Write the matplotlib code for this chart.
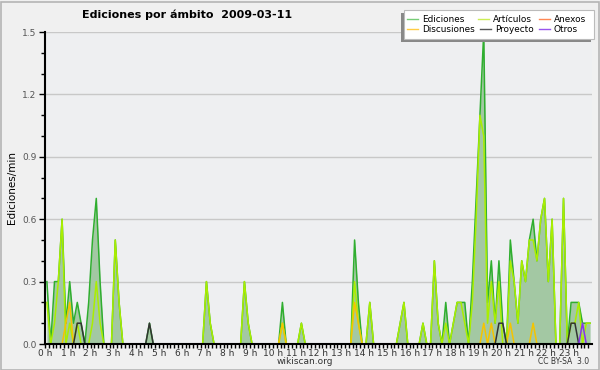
import numpy as np
import matplotlib
matplotlib.use("Agg")
import matplotlib.pyplot as plt
from matplotlib.patches import Rectangle

# 10-minute buckets, edits per minute
ediciones = [0.3, 0, 0.3, 0.3, 0.6, 0.1, 0.3, 0.1, 0.2, 0.1, 0, 0.2, 0.5, 0.7, 0.3, 0, 0, 0, 0.5, 0.2,
             0, 0, 0, 0, 0, 0, 0, 0.1, 0, 0, 0, 0, 0, 0, 0, 0, 0, 0, 0, 0,
             0, 0, 0.3, 0.1, 0, 0, 0, 0, 0, 0, 0, 0, 0.3, 0.1, 0, 0, 0, 0, 0, 0,
             0, 0, 0.2, 0, 0, 0, 0, 0.1, 0, 0, 0, 0, 0, 0, 0, 0, 0, 0, 0, 0,
             0, 0.5, 0.2, 0, 0, 0.2, 0, 0, 0, 0, 0, 0, 0, 0.1, 0.2, 0, 0, 0, 0, 0.1,
             0, 0, 0.4, 0.1, 0, 0.2, 0, 0.1, 0.2, 0.2, 0.2, 0, 0.3, 0.7, 1.1, 1.5, 0.2, 0.4, 0.1, 0.4,
             0.1, 0, 0.5, 0.3, 0.1, 0.4, 0.3, 0.5, 0.6, 0.4, 0.6, 0.7, 0.3, 0.6, 0, 0, 0.7, 0, 0.2, 0.2,
             0.2, 0.1, 0.1, 0.1]
articulos = [0.2, 0, 0.1, 0.3, 0.6, 0, 0.1, 0, 0.1, 0, 0, 0, 0.1, 0.3, 0.1, 0, 0, 0, 0.5, 0.2,
             0, 0, 0, 0, 0, 0, 0, 0, 0, 0, 0, 0, 0, 0, 0, 0, 0, 0, 0, 0,
             0, 0, 0.3, 0.1, 0, 0, 0, 0, 0, 0, 0, 0, 0.3, 0.1, 0, 0, 0, 0, 0, 0,
             0, 0, 0.1, 0, 0, 0, 0, 0.1, 0, 0, 0, 0, 0, 0, 0, 0, 0, 0, 0, 0,
             0, 0.3, 0.1, 0, 0, 0.2, 0, 0, 0, 0, 0, 0, 0, 0.1, 0.2, 0, 0, 0, 0, 0.1,
             0, 0, 0.4, 0.1, 0, 0.1, 0, 0.1, 0.2, 0.2, 0.1, 0, 0.2, 0.6, 1.1, 1.0, 0.1, 0.3, 0.1, 0.3,
             0, 0, 0.4, 0.3, 0.1, 0.4, 0.3, 0.5, 0.5, 0.4, 0.6, 0.7, 0.3, 0.6, 0, 0, 0.7, 0, 0.1, 0.1,
             0.2, 0, 0.1, 0.1]
discusiones = np.zeros(144)
discusiones[[5, 6, 62, 81, 82, 115, 117, 122, 128]] = [0.1, 0.2, 0.1, 0.2, 0.1, 0.1, 0.1, 0.1, 0.1]
proyecto = np.zeros(144)
proyecto[[8, 9, 27, 119, 120, 138, 139]] = 0.1
anexos = np.zeros(144)
otros = np.zeros(144)
otros[141] = 0.1

hours = (np.arange(144) * 10 + 5) / 60.0
hour_labels = [f"{h} h" for h in range(24)]

W, H = 600, 370
fig = plt.figure(figsize=(6, 3.7), dpi=100, facecolor="#f0f0f0")
ax = fig.add_axes([45 / W, 26 / H, 547 / W, 312 / H])
ax.set_facecolor("#eeeff1")


def masked(v):
    v = np.asarray(v, dtype=float)
    nz = v > 0
    keep = nz | np.r_[nz[1:], False] | np.r_[False, nz[:-1]]
    return np.ma.masked_where(~keep, v)


ax.fill_between(hours, ediciones, 0, color="#a3c8a3", lw=0, zorder=1)
ax.plot(hours, masked(ediciones), color="#2fae2f", lw=1.1, zorder=3)
ax.plot(hours, masked(articulos), color="#aaee00", lw=1.1, zorder=4)
ax.plot(hours, masked(discusiones), color="#f5c400", lw=1.1, zorder=5)
ax.plot(hours, masked(anexos), color="#ff7744", lw=1.1, zorder=5)
ax.plot(hours, masked(proyecto), color="#333333", lw=1.1, zorder=6)
ax.plot(hours, masked(otros), color="#8833ee", lw=1.1, zorder=7)

ax.set_xlim(0, 24)
ax.set_ylim(0, 1.5)
for y in [0.3, 0.6, 0.9, 1.2, 1.5]:
    ax.axhline(y, color="#c8c8c8", lw=1, zorder=0.5)

for s in ["top", "right"]:
    ax.spines[s].set_visible(False)
for s in ["left", "bottom"]:
    ax.spines[s].set_linewidth(1.5)
    ax.spines[s].set_zorder(10)

ax.set_xticks(range(24))
ax.set_xticklabels(hour_labels)
ax.set_xticks(np.arange(0, 24, 1 / 6), minor=True)
ax.set_yticks([0, 0.3, 0.6, 0.9, 1.2, 1.5])
ax.set_yticklabels(["0.0", "0.3", "0.6", "0.9", "1.2", "1.5"])
ax.set_yticks(np.arange(0, 1.51, 0.1), minor=True)
ax.tick_params(axis="x", which="both", direction="out", length=3, width=1, pad=0.5,
               labelsize=6.5, labelcolor="#333333")
ax.tick_params(axis="y", which="major", direction="out", length=4, width=1, pad=2,
               labelsize=6.5, labelcolor="#555555")
ax.tick_params(axis="y", which="minor", direction="out", length=3, width=1)

fig.text(187 / W, 1 - 15 / H, "Ediciones por ámbito  2009-03-11", ha="center", va="center",
         fontsize=8, fontweight="bold")
fig.text(12 / W, 1 - 188 / H, "Ediciones/min", rotation=90, ha="center", va="center", fontsize=7.5)
fig.text(305 / W, 1 - 362 / H, "wikiscan.org", ha="center", va="center", fontsize=6.5, color="#333333")
fig.text(589 / W, 1 - 362 / H, "CC BY-SA  3.0", ha="right", va="center", fontsize=5.5, color="#333333")

# frame around the image
fig.patches.append(Rectangle((0.5 / W, 0.5 / H), (W - 2) / W, (H - 2) / H, transform=fig.transFigure,
                             facecolor="none", edgecolor="#b4b4b4", lw=1.2, zorder=30))

# legend box with shadow
fig.patches.append(Rectangle((401 / W, 1 - 42 / H), 190 / W, 29 / H, transform=fig.transFigure,
                             facecolor="#888888", edgecolor="none", zorder=20))
fig.patches.append(Rectangle((404 / W, 1 - 39 / H), 190 / W, 29 / H, transform=fig.transFigure,
                             facecolor="white", edgecolor="#bbbbbb", lw=0.8, zorder=21))
legend_items = [("Ediciones", "#77cc77", 407, 19), ("Artículos", "#ccee55", 478, 19),
                ("Anexos", "#ff8855", 539, 19), ("Discusiones", "#ffcc44", 407, 29),
                ("Proyecto", "#555555", 480, 29), ("Otros", "#9955ee", 539, 29)]
for name, col, x, y in legend_items:
    fig.lines.append(plt.Line2D([x / W, (x + 11) / W], [1 - y / H, 1 - y / H], transform=fig.transFigure,
                                color=col, lw=1, zorder=22))
    fig.text((x + 15) / W, 1 - y / H, name, ha="left", va="center", fontsize=6.4, zorder=23)

fig.savefig("out.png", dpi=100, facecolor=fig.get_facecolor())
